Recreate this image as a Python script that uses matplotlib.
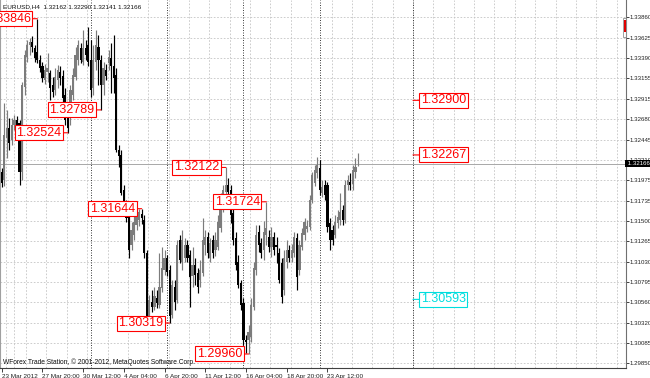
import matplotlib
matplotlib.use("Agg")
import matplotlib.pyplot as plt
from matplotlib.patches import Rectangle
from matplotlib.transforms import blended_transform_factory

plt.rcParams['font.family'] = ['Liberation Sans', 'DejaVu Sans']

# ---------------- data (EURUSD, H4) ----------------
opens = [1.3207, 1.3198, 1.3246, 1.3258, 1.3244, 1.3261, 1.3267, 1.3264, 1.3207, 1.3305,
         1.3340, 1.3354, 1.3358, 1.3351, 1.3346, 1.3337, 1.3330, 1.3314, 1.3323, 1.3322,
         1.3308, 1.3302, 1.3314, 1.3323, 1.3318, 1.3296, 1.3270, 1.3273, 1.3296, 1.3317,
         1.3337, 1.3351, 1.3334, 1.3351, 1.3354, 1.3337, 1.3304, 1.3334, 1.3352, 1.3337,
         1.3308, 1.3325, 1.3333, 1.3339, 1.3330, 1.3319, 1.3232, 1.3227, 1.3186, 1.3171,
         1.3157, 1.3122, 1.3134, 1.3146, 1.3151, 1.3158, 1.3151, 1.3113, 1.3038, 1.3056,
         1.3050, 1.3061, 1.3053, 1.3072, 1.3093, 1.3107, 1.3093, 1.3041, 1.3074, 1.3059,
         1.3128, 1.3103, 1.3107, 1.3122, 1.3111, 1.3086, 1.3099, 1.3090, 1.3082, 1.3090,
         1.3122, 1.3132, 1.3107, 1.3128, 1.3117, 1.3120, 1.3142, 1.3166, 1.3184, 1.3192,
         1.3186, 1.3159, 1.3130, 1.3103, 1.3078, 1.3055, 1.3012, 1.3012, 1.3016, 1.3050,
         1.3093, 1.3137, 1.3125, 1.3117, 1.3134, 1.3132, 1.3120, 1.3132, 1.3122, 1.3113,
         1.3101, 1.3070, 1.3103, 1.3117, 1.3107, 1.3113, 1.3130, 1.3093, 1.3120, 1.3134,
         1.3141, 1.3143, 1.3174, 1.3194, 1.3206, 1.3212, 1.3183, 1.3192, 1.3192, 1.3148,
         1.3140, 1.3134, 1.3148, 1.3151, 1.3163, 1.3151, 1.3192, 1.3195, 1.3193, 1.3207,
         1.32162]
highs = [1.3212, 1.3287, 1.3279, 1.3270, 1.3270, 1.3273, 1.3272, 1.3267, 1.3311, 1.3348,
         1.3360, 1.3362, 1.3365, 1.3354, 1.33846, 1.3343, 1.3334, 1.3332, 1.3345, 1.3325,
         1.3317, 1.3327, 1.3331, 1.3330, 1.3325, 1.3304, 1.3279, 1.3308, 1.3327, 1.3352,
         1.3360, 1.3356, 1.3372, 1.3360, 1.3375, 1.3360, 1.3354, 1.3372, 1.3366, 1.3343,
         1.3334, 1.3332, 1.3348, 1.3356, 1.3366, 1.3327, 1.3238, 1.3232, 1.3192, 1.3174,
         1.3161, 1.3149, 1.3157, 1.3163, 1.3164, 1.31644, 1.3157, 1.3117, 1.3064, 1.3070,
         1.3074, 1.3070, 1.3113, 1.3120, 1.3117, 1.3111, 1.3099, 1.3082, 1.3082, 1.3128,
         1.3134, 1.3140, 1.3130, 1.3128, 1.3117, 1.3120, 1.3107, 1.3096, 1.3105, 1.3154,
         1.3140, 1.3137, 1.3130, 1.3134, 1.3137, 1.3157, 1.3183, 1.3192, 1.32122, 1.3200,
         1.3192, 1.3165, 1.3137, 1.3111, 1.3082, 1.3061, 1.3018, 1.3030, 1.3061, 1.3103,
         1.3146, 1.3146, 1.3130, 1.3150, 1.31724, 1.3140, 1.3143, 1.3137, 1.3132, 1.3119,
         1.3107, 1.3117, 1.3128, 1.3122, 1.3123, 1.3137, 1.3136, 1.3128, 1.3142, 1.3154,
         1.3151, 1.3180, 1.3207, 1.3215, 1.3224, 1.3221, 1.3198, 1.3198, 1.3195, 1.3154,
         1.3146, 1.3157, 1.3163, 1.3183, 1.3169, 1.3198, 1.3203, 1.3206, 1.3215, 1.3223,
         1.32290]
lows = [1.3190, 1.3191, 1.3223, 1.3232, 1.3238, 1.3256, 1.3253, 1.3192, 1.3198, 1.3296,
        1.3334, 1.3343, 1.3346, 1.3334, 1.3333, 1.3323, 1.3311, 1.3309, 1.3311, 1.3290,
        1.3294, 1.3296, 1.3304, 1.3308, 1.3273, 1.3261, 1.32524, 1.3261, 1.3290, 1.3314,
        1.3331, 1.3333, 1.3331, 1.3337, 1.3330, 1.3294, 1.3296, 1.3325, 1.3308, 1.32789,
        1.3296, 1.3314, 1.3325, 1.3298, 1.3298, 1.3230, 1.3213, 1.3180, 1.3166, 1.3149,
        1.3107, 1.3117, 1.3128, 1.3140, 1.3144, 1.3147, 1.3107, 1.3033, 1.3033, 1.3045,
        1.3047, 1.3049, 1.3049, 1.3068, 1.3088, 1.3086, 1.30319, 1.3038, 1.3047, 1.3055,
        1.3101, 1.3093, 1.3103, 1.3103, 1.3050, 1.3074, 1.3076, 1.3067, 1.3074, 1.3086,
        1.3111, 1.3107, 1.3103, 1.3107, 1.3110, 1.3117, 1.3137, 1.3161, 1.3179, 1.3178,
        1.3148, 1.3122, 1.3093, 1.3072, 1.3047, 1.3006, 1.2997, 1.29960, 1.3010, 1.3047,
        1.3088, 1.3114, 1.3107, 1.3105, 1.3122, 1.3114, 1.3108, 1.3111, 1.3101, 1.3078,
        1.3055, 1.3064, 1.3096, 1.3103, 1.3103, 1.3108, 1.3070, 1.3088, 1.3117, 1.3128,
        1.3137, 1.3140, 1.3171, 1.3191, 1.3200, 1.3180, 1.3178, 1.3174, 1.3137, 1.3117,
        1.3122, 1.3130, 1.3142, 1.3146, 1.3146, 1.3148, 1.3186, 1.3186, 1.3186, 1.3200,
        1.32141]
closes = [1.3194, 1.3250, 1.3258, 1.3241, 1.3261, 1.3267, 1.3259, 1.3207, 1.3308, 1.3343,
          1.3354, 1.3358, 1.3352, 1.3339, 1.3337, 1.3327, 1.3316, 1.3325, 1.3327, 1.3304,
          1.3300, 1.3317, 1.3325, 1.3316, 1.3293, 1.3267, 1.3258, 1.3302, 1.3319, 1.3343,
          1.3354, 1.3337, 1.3351, 1.3343, 1.3334, 1.3302, 1.3337, 1.3354, 1.3337, 1.3308,
          1.3327, 1.3318, 1.3340, 1.3330, 1.3316, 1.3232, 1.3225, 1.3183, 1.3171, 1.3154,
          1.3117, 1.3140, 1.3149, 1.3157, 1.3161, 1.3154, 1.3113, 1.3038, 1.3059, 1.3050,
          1.3063, 1.3055, 1.3074, 1.3096, 1.3107, 1.3091, 1.3040, 1.3076, 1.3056, 1.3122,
          1.3105, 1.3128, 1.3122, 1.3107, 1.3085, 1.3099, 1.3088, 1.3074, 1.3093, 1.3128,
          1.3132, 1.3113, 1.3125, 1.3113, 1.3128, 1.3149, 1.3166, 1.3186, 1.3192, 1.3184,
          1.3157, 1.3128, 1.3099, 1.3076, 1.3053, 1.3012, 1.3010, 1.3022, 1.3053, 1.3096,
          1.3134, 1.3122, 1.3113, 1.3137, 1.3142, 1.3120, 1.3132, 1.3117, 1.3120, 1.3082,
          1.3062, 1.3107, 1.3117, 1.3107, 1.3117, 1.3132, 1.3085, 1.3122, 1.3136, 1.3149,
          1.3144, 1.3174, 1.3203, 1.3209, 1.3215, 1.3186, 1.3190, 1.3180, 1.3143, 1.3128,
          1.3128, 1.3149, 1.3155, 1.3161, 1.3151, 1.3192, 1.3198, 1.3192, 1.3209, 1.3213,
          1.32166]

time_ticks = [0, 16, 32, 48, 64, 80, 96, 112, 128]
time_labels = ["23 Mar 2012", "27 Mar 20:00", "30 Mar 12:00", "4 Apr 04:00", "6 Apr 20:00",
               "11 Apr 12:00", "16 Apr 04:00", "18 Apr 20:00", "23 Apr 12:00"]
price_ticks = [1.33860, 1.33625, 1.33390, 1.33155, 1.32915, 1.32680, 1.32445, 1.32210, 1.31975,
               1.31735, 1.31500, 1.31265, 1.31030, 1.30795, 1.30560, 1.30320, 1.30085, 1.29850]
price_tick_labels = ["1.33860", "1.33625", "1.33390", "1.33155", "1.32915", "1.32680", "1.32445",
                     "1.32210", "1.31975", "1.31735", "1.31500", "1.31265", "1.31030", "1.30795",
                     "1.30560", "1.30320", "1.30085", "1.29850"]

zigzag_bar = [14, 26, 39, 55, 66, 88, 97, 104]
zigzag_price = [1.33846, 1.32524, 1.32789, 1.31644, 1.30319, 1.32122, 1.29960, 1.31724]
level_prices = [1.32900, 1.32267, 1.30593]
level_colors = ['#ff0000', '#ff0000', '#00dede']
week_start_bars = [35, 65, 95, 125]
bid_price = 1.32166
header = "EURUSD,H4  1.32162 1.32290 1.32141 1.32166"
footer = "WForex Trade Station, \u00a9 2001-2012, MetaQuotes Software Corp."

# ---------------- figure ----------------
W, H = 650, 378
fig = plt.figure(figsize=(W / 100, H / 100), dpi=100)
ax = fig.add_axes([0, 10 / H, 626 / W, 368 / H])
ax.set_xlim(-0.67, 245.3)
ax.set_ylim(1.297977, 1.340628)

GRID = '#c4c4c4'
for p in price_ticks:
    ax.axhline(p, color=GRID, lw=0.6, ls=(0, (2, 2)), zorder=0)
g = 1.6
while g < 245.3:
    ax.axvline(g, color=GRID, lw=0.6, ls=(0, (2, 2)), zorder=0)
    g += 8
ax.axvline(5, color=GRID, lw=0.6, ls=(0, (2, 2)), zorder=0)
for s in week_start_bars:
    ax.axvline(s, color='#202020', lw=0.6, ls=(0, (1.2, 1.8)), zorder=1)
marker_bar = 161.6
ax.axvline(marker_bar, color='#202020', lw=0.6, ls=(0, (1.2, 1.8)), zorder=1)

ax.axhline(bid_price, color='#a8a8a8', lw=0.7, zorder=1)

BULL, BEAR = '#7c7c7c', '#000000'
for i, (o, h, l, c) in enumerate(zip(opens, highs, lows, closes)):
    col = BULL if c >= o else BEAR
    ax.vlines(i, l, h, color=col, lw=0.85, zorder=2)
    ax.bar(i, max(abs(c - o), 0.00004), bottom=min(o, c), width=0.86,
           color=col, linewidth=0, zorder=3)

for b, p in zip(zigzag_bar, zigzag_price):
    ax.annotate(f"{p:.5f}", xy=(b, p), xytext=(-6.5, 0), textcoords='offset pixels',
                ha='right', va='center', fontsize=9, color='#ff0000', zorder=6,
                bbox=dict(boxstyle='square,pad=0.12', fc='white', ec='#ff0000', lw=0.8),
                arrowprops=dict(arrowstyle='-', color='#ff0000', lw=0.8,
                                shrinkA=0, shrinkB=0))

for p, c in zip(level_prices, level_colors):
    ax.annotate(f"{p:.5f}", xy=(marker_bar, p), xytext=(8, 0), textcoords='offset pixels',
                ha='left', va='center', fontsize=9, color=c, zorder=6,
                bbox=dict(boxstyle='square,pad=0.12', fc='white', ec=c, lw=0.8),
                arrowprops=dict(arrowstyle='-', color=c, lw=0.8, shrinkA=0, shrinkB=0))

ax.add_patch(Rectangle((244.2, 1.33638), 1.1, 0.00216, fc='none', ec='#909090',
                       lw=0.6, zorder=4, clip_on=False))
ax.add_patch(Rectangle((244.5, 1.33695), 0.7, 0.00136, fc='#e00000', ec='none',
                       zorder=5, clip_on=False))

ax.spines['top'].set_visible(False)
ax.spines['left'].set_color('#a0a0a0')
ax.spines['right'].set_color('#707070')
ax.spines['bottom'].set_color('#404040')
for sp in ax.spines.values():
    sp.set_linewidth(0.8)

ax.set_yticks(price_ticks, labels=price_tick_labels)
ax.yaxis.tick_right()
ax.tick_params(axis='y', right=True, left=False, labelright=True, labelleft=False,
               length=2.0, width=0.6, pad=0.4, labelsize=4.4, colors='#202020')
ax.set_xticks(time_ticks, labels=time_labels)
ax.tick_params(axis='x', length=3, width=0.6, pad=1.0, labelsize=4.6, colors='#202020')
for lab in ax.get_xticklabels():
    lab.set_horizontalalignment('left')

tr = blended_transform_factory(ax.transAxes, ax.transData)
ax.text(1.0, bid_price, " " + f"{bid_price:.5f}", transform=tr, ha='left', va='center',
        fontsize=4.4, color='white', zorder=7, clip_on=False,
        bbox=dict(boxstyle='square,pad=0.15', fc='black', ec='black', lw=0))

ax.text(3 / 626, 1 - 7 / 368, header, transform=ax.transAxes, ha='left', va='center',
        fontsize=4.6, color='#101010', zorder=7)
ax.text(3 / 626, 1 - 362.5 / 368, footer, transform=ax.transAxes, ha='left', va='center',
        fontsize=4.8, color='#101010', zorder=7)

fig.savefig("out.png", dpi=100, facecolor='white')
